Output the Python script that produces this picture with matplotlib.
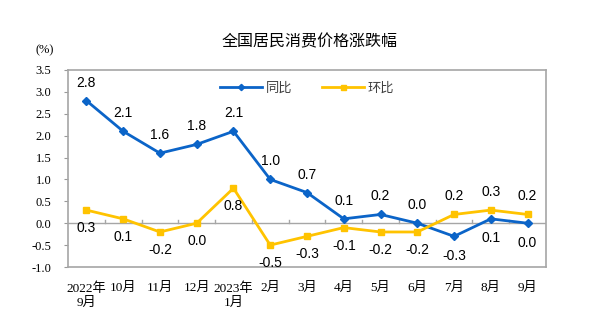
import numpy as np
from matplotlib import pyplot as plt

months = ['2022年\n9月', '10月', '11月', '12月', '2023年\n1月', '2月', '3月',
          '4月', '5月', '6月', '7月', '8月', '9月']
yoy = [2.8, 2.1, 1.6, 1.8, 2.1, 1.0, 0.7, 0.1, 0.2, 0.0, -0.3, 0.1, 0.0]
mom = [0.3, 0.1, -0.2, 0.0, 0.8, -0.5, -0.3, -0.1, -0.2, -0.2, 0.2, 0.3, 0.2]
yoy_up = [1, 1, 1, 1, 1, 1, 1, 1, 1, 1, 0, 0, 0]
mom_up = [0, 0, 0, 0, 0, 0, 0, 0, 0, 0, 1, 1, 1]

blue = '#0B64C8'
yellow = '#FFC300'
serif = ['Liberation Serif', 'Noto Sans CJK SC']
cjk = ['Noto Sans CJK SC', 'DejaVu Sans']

fig = plt.figure(figsize=(5.96, 3.26), dpi=100)
ax = fig.add_axes([68/596, 1-267/326, 478/596, 197/326])
x = np.arange(len(months))

ax.plot(x, yoy, color=blue, lw=2, marker='D', ms=4, label='同比', zorder=3)
ax.plot(x, mom, color=yellow, lw=2, marker='s', ms=4.5, label='环比', zorder=3)

for i in x:
    off = 13 if yoy_up[i] else -14
    ax.annotate('%.1f' % yoy[i], (i, yoy[i]), xytext=(0, off), textcoords='offset points',
                ha='center', va='center', fontsize=10, family='Liberation Sans')
    off = 13 if mom_up[i] else -13
    ax.annotate('%.1f' % mom[i], (i, mom[i]), xytext=(0, off), textcoords='offset points',
                ha='center', va='center', fontsize=10, family='Liberation Sans')

ax.set_xlim(-0.5, 12.5)
ax.set_ylim(-1.0, 3.5)
ax.set_yticks(np.arange(-1.0, 3.51, 0.5))
ax.set_yticklabels(['%.1f' % v for v in np.arange(-1.0, 3.51, 0.5)], family=serif, fontsize=9)
ax.set_xticks(x)
ax.set_xticklabels(months, family=serif, fontsize=9.5, linespacing=1.25)
ax.tick_params(axis='x', length=0, pad=11)
ax.tick_params(axis='y', length=3, direction='out', color='#999999', pad=9)

# zero line with category ticks
ax.axhline(0, color='#A6A6A6', lw=1, zorder=1)
for b in np.arange(0.5, 12.5, 1):
    ax.plot([b, b], [0, 0.08], color='#A6A6A6', lw=1, zorder=1)

for s in ax.spines.values():
    s.set_color('#A6A6A6')
    s.set_linewidth(1.2)

leg = ax.legend(loc='upper center', bbox_to_anchor=(0.5, 1.0), ncol=2, frameon=False,
                prop={'family': cjk, 'size': 9.5}, handlelength=3.2, columnspacing=2.2,
                handletextpad=0.3, markerscale=0.8)
for t in leg.get_texts():
    t.set_color('#404040')

fig.text(310/596, 1-42/326, '全国居民消费价格涨跌幅', ha='center', va='center',
         fontsize=11.5, family=cjk)
fig.text(45/596, 1-50/326, '(%)', ha='center', va='center', fontsize=9, family=serif)

fig.savefig('out.png', dpi=100)
